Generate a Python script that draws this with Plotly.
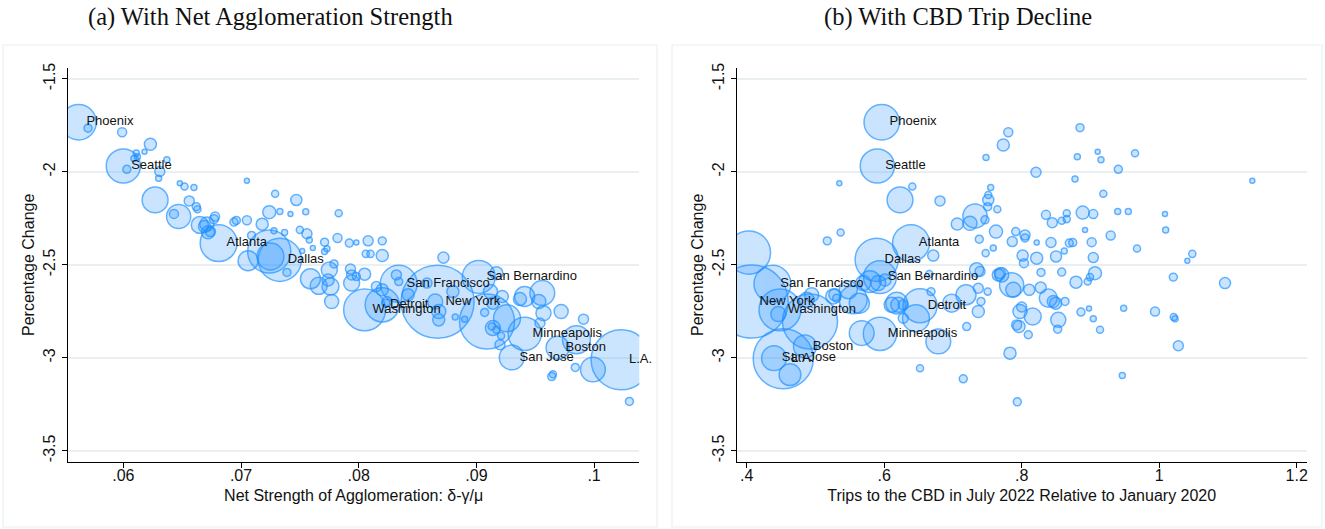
import plotly.graph_objects as go

# ---------------- Panel (a): net agglomeration strength ----------------
a_x = [0.0562, 0.0570, 0.0599, 0.0623, 0.0611, 0.0618, 0.0612, 0.0609, 0.0637, 0.0600,
       0.0603, 0.0631, 0.0630, 0.0627, 0.0648, 0.0652, 0.0660, 0.0647, 0.0643, 0.0656,
       0.0662, 0.0663, 0.0671, 0.0678, 0.0677, 0.0672, 0.0681, 0.0694, 0.0696, 0.0705,
       0.0705, 0.0718, 0.0724, 0.0729, 0.0733, 0.0742, 0.0747, 0.0755, 0.0728, 0.0737,
       0.0709, 0.0706, 0.0733, 0.0724, 0.0725, 0.0739, 0.0750, 0.0756, 0.0758, 0.0771,
       0.0782, 0.0792, 0.0798, 0.0808, 0.0820, 0.0783, 0.0761, 0.0773, 0.0771, 0.0752,
       0.0806, 0.0810, 0.0820, 0.0872, 0.0779, 0.0775, 0.0759, 0.0766, 0.0774, 0.0776,
       0.0777, 0.0793, 0.0794, 0.0798, 0.0805, 0.0794, 0.0805, 0.0820, 0.0815, 0.0820,
       0.0823, 0.0834, 0.0832, 0.0842, 0.0858, 0.0867, 0.0909, 0.0902, 0.0917, 0.0880,
       0.0912, 0.0922, 0.0914, 0.0907, 0.0926, 0.0913, 0.0917, 0.0921, 0.0920, 0.0882,
       0.0868, 0.0865, 0.0941, 0.0937, 0.0956, 0.0953, 0.0957, 0.0954, 0.0941, 0.0972,
       0.0991, 0.0930, 0.0969, 0.0985, 0.0984, 0.0964, 0.0965, 0.0999, 0.1023, 0.1030,
       0.0665, 0.0669, 0.0674, 0.0868, 0.0890, 0.0824, 0.0834, 0.0914]
a_y = [-1.733, -1.765, -1.787, -1.851, -1.899, -1.891, -1.918, -1.928, -1.935, -1.968,
       -1.986, -1.998, -2.034, -2.151, -2.061, -2.079, -2.084, -2.240, -2.226, -2.156,
       -2.187, -2.201, -2.280, -2.240, -2.254, -2.325, -2.383, -2.270, -2.261, -2.260,
       -2.048, -2.281, -2.217, -2.118, -2.213, -2.227, -2.151, -2.215, -2.316, -2.326,
       -2.342, -2.478, -2.473, -2.428, -2.455, -2.541, -2.312, -2.333, -2.366, -2.378,
       -2.356, -2.383, -2.380, -2.371, -2.371, -2.222, -2.410, -2.414, -2.428, -2.425,
       -2.441, -2.441, -2.450, -2.461, -2.495, -2.527, -2.575, -2.613, -2.581, -2.617,
       -2.697, -2.523, -2.554, -2.563, -2.550, -2.598, -2.742, -2.715, -2.617, -2.634,
       -2.706, -2.602, -2.554, -2.661, -2.598, -2.699, -2.805, -2.565, -2.545, -2.644,
       -2.644, -2.670, -2.706, -2.756, -2.787, -2.832, -2.849, -2.882, -2.930, -2.781,
       -2.751, -2.697, -2.670, -2.684, -2.651, -2.697, -2.760, -2.813, -2.871, -2.751,
       -2.792, -2.998, -2.946, -2.903, -3.052, -3.101, -3.088, -3.063, -3.011, -3.235,
       -2.285, -2.294, -2.321, -2.796, -2.792, -2.697, -2.590, -2.840]
a_pop = [4.5, 0.23, 0.29, 0.52, 0.13, 0.09, 0.13, 0.13, 0.13, 4.2,
         0.23, 0.36, 0.13, 2.4, 0.09, 0.18, 0.13, 2.1, 0.29, 0.36,
         0.23, 0.18, 0.71, 0.29, 0.29, 0.61, 4.9, 0.23, 0.23, 0.29,
         0.09, 0.52, 0.61, 0.18, 0.13, 0.09, 0.44, 0.13, 0.13, 0.13,
         0.23, 1.44, 6.7, 6.7, 2.6, 0.23, 0.18, 0.36, 0.13, 0.23,
         0.29, 0.23, 0.09, 0.36, 0.23, 0.18, 0.09, 0.13, 0.13, 0.09,
         0.18, 0.18, 0.52, 0.44, 0.23, 0.92, 1.44, 1.04, 0.52, 1.04,
         0.71, 0.36, 0.36, 0.23, 0.52, 0.92, 6.3, 4.2, 0.36, 0.52,
         0.23, 4.9, 0.36, 0.52, 0.36, 19.2, 10.9, 3.9, 0.61, 0.52,
         0.71, 0.52, 0.52, 0.23, 2.6, 0.18, 0.18, 0.18, 0.36, 0.13,
         0.71, 0.81, 1.44, 0.61, 2.2, 0.71, 0.81, 0.36, 4.0, 0.71,
         0.36, 2.2, 1.9, 2.8, 0.23, 0.23, 0.18, 2.2, 13.0, 0.23,
         1.04, 0.52, 0.36, 0.52, 0.13, 0.36, 0.23, 0.81]
a_name = [""] * len(a_x)
for i, n in {0: "Phoenix", 9: "Seattle", 26: "Atlanta", 42: "Dallas", 76: "Washington",
             77: "Detroit", 81: "San Francisco", 85: "New York", 87: "San Bernardino",
             108: "Minneapolis", 111: "San Jose", 112: "Boston", 118: "L.A."}.items():
    a_name[i] = n

# ---------------- Panel (b): CBD trip decline ----------------
b_x = [0.5964, 0.5900, 0.5347, 0.6409, 0.6230, 0.6812, 0.7481, 0.7549, 0.7514, 0.7505,
       0.7321, 0.7248, 0.7063, 0.7466, 0.7626, 0.7383, 0.7476, 0.5172, 0.5367, 0.6714,
       0.6390, 0.4033, 0.5891, 0.5939, 0.4073, 0.4375, 0.4921, 0.4484, 0.4460, 0.4873,
       0.4532, 0.4397, 0.4848, 0.4630, 0.5260, 0.5309, 0.5478, 0.5550, 0.5638, 0.5696,
       0.5793, 0.5914, 0.6012, 0.6182, 0.6205, 0.6278, 0.6109, 0.6521, 0.6462, 0.6278,
       0.6681, 0.6656, 0.6982, 0.7190, 0.7408, 0.7369, 0.7200, 0.7345, 0.7369, 0.7505,
       0.7660, 0.7709, 0.7854, 0.7878, 0.7927, 0.7830, 0.5673, 0.5939, 0.6787, 0.6521,
       0.7150, 0.7805, 0.7732, 0.8848, 0.8809, 0.9105, 0.9153, 0.9648, 0.8208, 0.9405,
       0.8775, 0.9187, 1.1354, 0.8887, 0.9041, 0.9396, 0.9550, 1.0084, 1.0094, 0.8353,
       0.8445, 0.8582, 0.8655, 0.8655, 0.7913, 0.8048, 0.8048, 0.7863, 0.8218, 0.8426,
       0.8692, 0.8742, 0.9018, 0.9294, 0.8921, 0.8619, 0.9677, 1.0481, 1.0409, 0.8014,
       0.8033, 0.8218, 0.8499, 0.9041, 0.8281, 0.8582, 0.9066, 0.8993, 0.8960, 0.8790,
       0.7684, 0.8110, 0.8276, 0.8387, 0.8460, 0.8494, 0.8630, 1.0205, 1.0957, 0.8000,
       0.7975, 0.8160, 0.8532, 0.8523, 0.7961, 0.8096, 0.8862, 0.8979, 0.9041, 0.9139,
       0.9483, 0.9939, 1.0211, 1.0230, 1.0278, 0.9463, 0.7936, 0.4945, 0.5284, 0.7393,
       0.7645, 0.7514, 0.7587]
b_y = [-1.733, -1.968, -2.061, -2.079, -2.151, -2.156, -1.923, -2.084, -2.151, -2.187,
       -2.237, -2.276, -2.280, -2.258, -2.321, -2.362, -2.437, -2.371, -2.326, -2.450,
       -2.383, -2.434, -2.473, -2.566, -2.697, -2.602, -2.805, -2.742, -2.765, -2.688,
       -3.005, -3.002, -2.939, -3.091, -2.670, -2.679, -2.634, -2.688, -2.706, -2.598,
       -2.590, -2.598, -2.581, -2.706, -2.715, -2.715, -2.715, -2.720, -2.787, -2.787,
       -2.644, -2.550, -2.706, -2.661, -2.697, -2.751, -2.832, -2.527, -2.626, -2.644,
       -2.554, -2.554, -2.608, -2.634, -2.823, -2.975, -2.867, -2.871, -2.912, -3.056,
       -3.113, -1.787, -1.855, -1.762, -1.918, -1.891, -1.935, -1.900, -2.002, -1.986,
       -2.038, -2.118, -2.048, -2.219, -2.227, -2.213, -2.213, -2.227, -2.312, -2.231,
       -2.273, -2.263, -2.222, -2.254, -2.321, -2.339, -2.355, -2.375, -2.380, -2.380,
       -2.383, -2.380, -2.378, -2.342, -2.312, -2.425, -2.412, -2.441, -2.478, -2.450,
       -2.491, -2.464, -2.455, -2.461, -2.541, -2.539, -2.545, -2.566, -2.590, -2.593,
       -2.545, -2.634, -2.622, -2.679, -2.697, -2.706, -2.697, -2.566, -2.598, -2.727,
       -2.751, -2.778, -2.796, -2.846, -2.832, -2.876, -2.754, -2.735, -2.790, -2.849,
       -2.733, -2.751, -2.781, -2.790, -2.935, -3.095, -3.237, -2.661, -2.661, -2.536,
       -2.201, -2.124, -2.410]
b_pop = [4.5, 4.2, 0.09, 0.18, 2.4, 0.36, 0.13, 0.13, 0.44, 0.23,
         2.1, 0.71, 0.52, 0.23, 0.61, 0.23, 0.18, 0.23, 0.18, 0.44,
         4.9, 6.7, 6.7, 3.9, 19.2, 4.9, 10.9, 6.3, 0.81, 0.81,
         13.0, 2.2, 1.9, 1.7, 0.81, 0.23, 1.17, 2.8, 1.44, 0.81,
         1.7, 0.81, 0.52, 1.7, 0.81, 0.36, 0.81, 4.2, 2.6, 0.36,
         0.23, 0.18, 1.17, 1.44, 0.23, 0.52, 0.23, 0.71, 0.36, 0.18,
         0.52, 0.71, 2.1, 0.81, 0.36, 0.52, 2.2, 4.0, 2.2, 0.18,
         0.23, 0.29, 0.52, 0.23, 0.13, 0.09, 0.13, 0.18, 0.36, 0.23,
         0.13, 0.18, 0.09, 0.61, 0.29, 0.13, 0.13, 0.09, 0.13, 0.29,
         0.36, 0.18, 0.18, 0.18, 0.23, 0.36, 0.23, 0.36, 0.09, 0.36,
         0.23, 0.23, 0.29, 0.29, 0.09, 0.13, 0.18, 0.18, 0.09, 0.44,
         0.29, 0.52, 0.44, 0.36, 0.23, 0.23, 0.61, 0.18, 0.18, 0.52,
         0.44, 0.44, 0.44, 1.17, 0.52, 0.52, 0.23, 0.23, 0.44, 0.36,
         0.71, 1.04, 0.81, 0.23, 0.52, 0.23, 0.23, 0.09, 0.13, 0.18,
         0.13, 0.29, 0.18, 0.13, 0.36, 0.13, 0.23, 0.71, 0.52, 0.36,
         0.18, 0.18, 0.13]
b_name = [""] * len(b_x)
for i, n in {0: "Phoenix", 1: "Seattle", 20: "Atlanta", 22: "Dallas", 23: "San Bernardino",
             24: "New York", 25: "San Francisco", 27: "Washington", 30: "L.A.",
             31: "San Jose", 32: "Boston", 47: "Detroit", 67: "Minneapolis"}.items():
    b_name[i] = n

y_ticks = [-3.5, -3, -2.5, -2, -1.5]
y_tick_text = ["-3.5", "-3", "-2.5", "-2", "-1.5"]
a_ticks = [0.06, 0.07, 0.08, 0.09, 0.1]
a_tick_text = [".06", ".07", ".08", ".09", ".1"]
b_ticks = [0.4, 0.6, 0.8, 1.0, 1.2]
b_tick_text = [".4", ".6", ".8", "1", "1.2"]

FILL = "rgba(30,144,255,0.33)"
EDGE = "rgb(30,144,255)"
SIZEREF = 2.0 * max(a_pop + b_pop) / (73.0 ** 2)
SANS = "Liberation Sans, Arial, sans-serif"

fig = go.Figure()


def add_panel(xs, ys, pops, names, xa, ya):
    fig.add_trace(go.Scatter(
        x=xs, y=ys, mode="markers", xaxis=xa, yaxis=ya, showlegend=False,
        marker=dict(size=pops, sizemode="area", sizeref=SIZEREF, color=FILL,
                    line=dict(color=EDGE, width=1.5)),
        hoverinfo="skip"))
    idx = [i for i, n in enumerate(names) if n]
    fig.add_trace(go.Scatter(
        x=[xs[i] for i in idx], y=[ys[i] for i in idx], text=[names[i] for i in idx],
        mode="markers+text", textposition="middle right", xaxis=xa, yaxis=ya,
        showlegend=False, hoverinfo="skip", cliponaxis=False,
        marker=dict(size=11, color="rgba(0,0,0,0)", line=dict(width=0)),
        textfont=dict(family=SANS, size=13, color="#111111")))


add_panel(a_x, a_y, a_pop, a_name, "x", "y")
add_panel(b_x, b_y, b_pop, b_name, "x2", "y2")

axis_common = dict(showline=True, linecolor="#000000", linewidth=1.3, mirror=False,
                   ticks="outside", ticklen=5, tickwidth=1.3, tickcolor="#000000",
                   zeroline=False, automargin=False,
                   tickfont=dict(family=SANS, size=16, color="#111111"))
ydom = [0.1272, 0.8715]
yaxis_common = dict(axis_common, range=[-3.559, -1.441], tickvals=y_ticks,
                    ticktext=y_tick_text, tickangle=-90, showgrid=True,
                    gridcolor="#EAF0F2", gridwidth=1.5, domain=ydom,
                    title=dict(text="Percentage Change", standoff=2,
                               font=dict(family=SANS, size=16, color="#111111")))
xtitle_font = dict(family=SANS, size=16, color="#111111")
SERIF = "Liberation Serif, serif"

fig.update_layout(
    width=1325, height=529, margin=dict(l=0, r=0, t=0, b=0),
    paper_bgcolor="white", plot_bgcolor="white",
    xaxis=dict(axis_common, domain=[0.05132, 0.48249], range=[0.0553, 0.10384],
               tickvals=a_ticks, ticktext=a_tick_text, showgrid=False, anchor="y",
               ticklabelstandoff=-6,
               title=dict(text="Net Strength of Agglomeration: δ-γ/μ", standoff=6,
                          font=xtitle_font)),
    yaxis=dict(yaxis_common, anchor="x"),
    xaxis2=dict(axis_common, domain=[0.55600, 0.98619], range=[0.3855, 1.2145],
                tickvals=b_ticks, ticktext=b_tick_text, showgrid=False, anchor="y2",
                ticklabelstandoff=-6,
                title=dict(text="Trips to the CBD in July 2022 Relative to January 2020",
                           standoff=6, font=xtitle_font)),
    yaxis2=dict(yaxis_common, anchor="x2"),
    annotations=[
        dict(text="(a) With Net Agglomeration Strength", x=270 / 1325, y=1 - 17 / 529,
             xref="paper", yref="paper", showarrow=False, xanchor="center", yanchor="middle",
             font=dict(family=SERIF, size=24.5, color="#111111")),
        dict(text="(b) With CBD Trip Decline", x=958 / 1325, y=1 - 17 / 529,
             xref="paper", yref="paper", showarrow=False, xanchor="center", yanchor="middle",
             font=dict(family=SERIF, size=24.5, color="#111111")),
    ],
    shapes=[
        dict(type="rect", xref="paper", yref="paper", x0=3 / 1325, x1=657 / 1325,
             y0=2 / 529, y1=1 - 45 / 529, line=dict(color="#EAF0F2", width=1.2)),
        dict(type="rect", xref="paper", yref="paper", x0=672 / 1325, x1=1322 / 1325,
             y0=2 / 529, y1=1 - 45 / 529, line=dict(color="#EAF0F2", width=1.2)),
    ],
)

fig.write_html("out.html", config={"displayModeBar": False},
               post_script="document.body.style.margin='0';document.body.style.padding='0';")
